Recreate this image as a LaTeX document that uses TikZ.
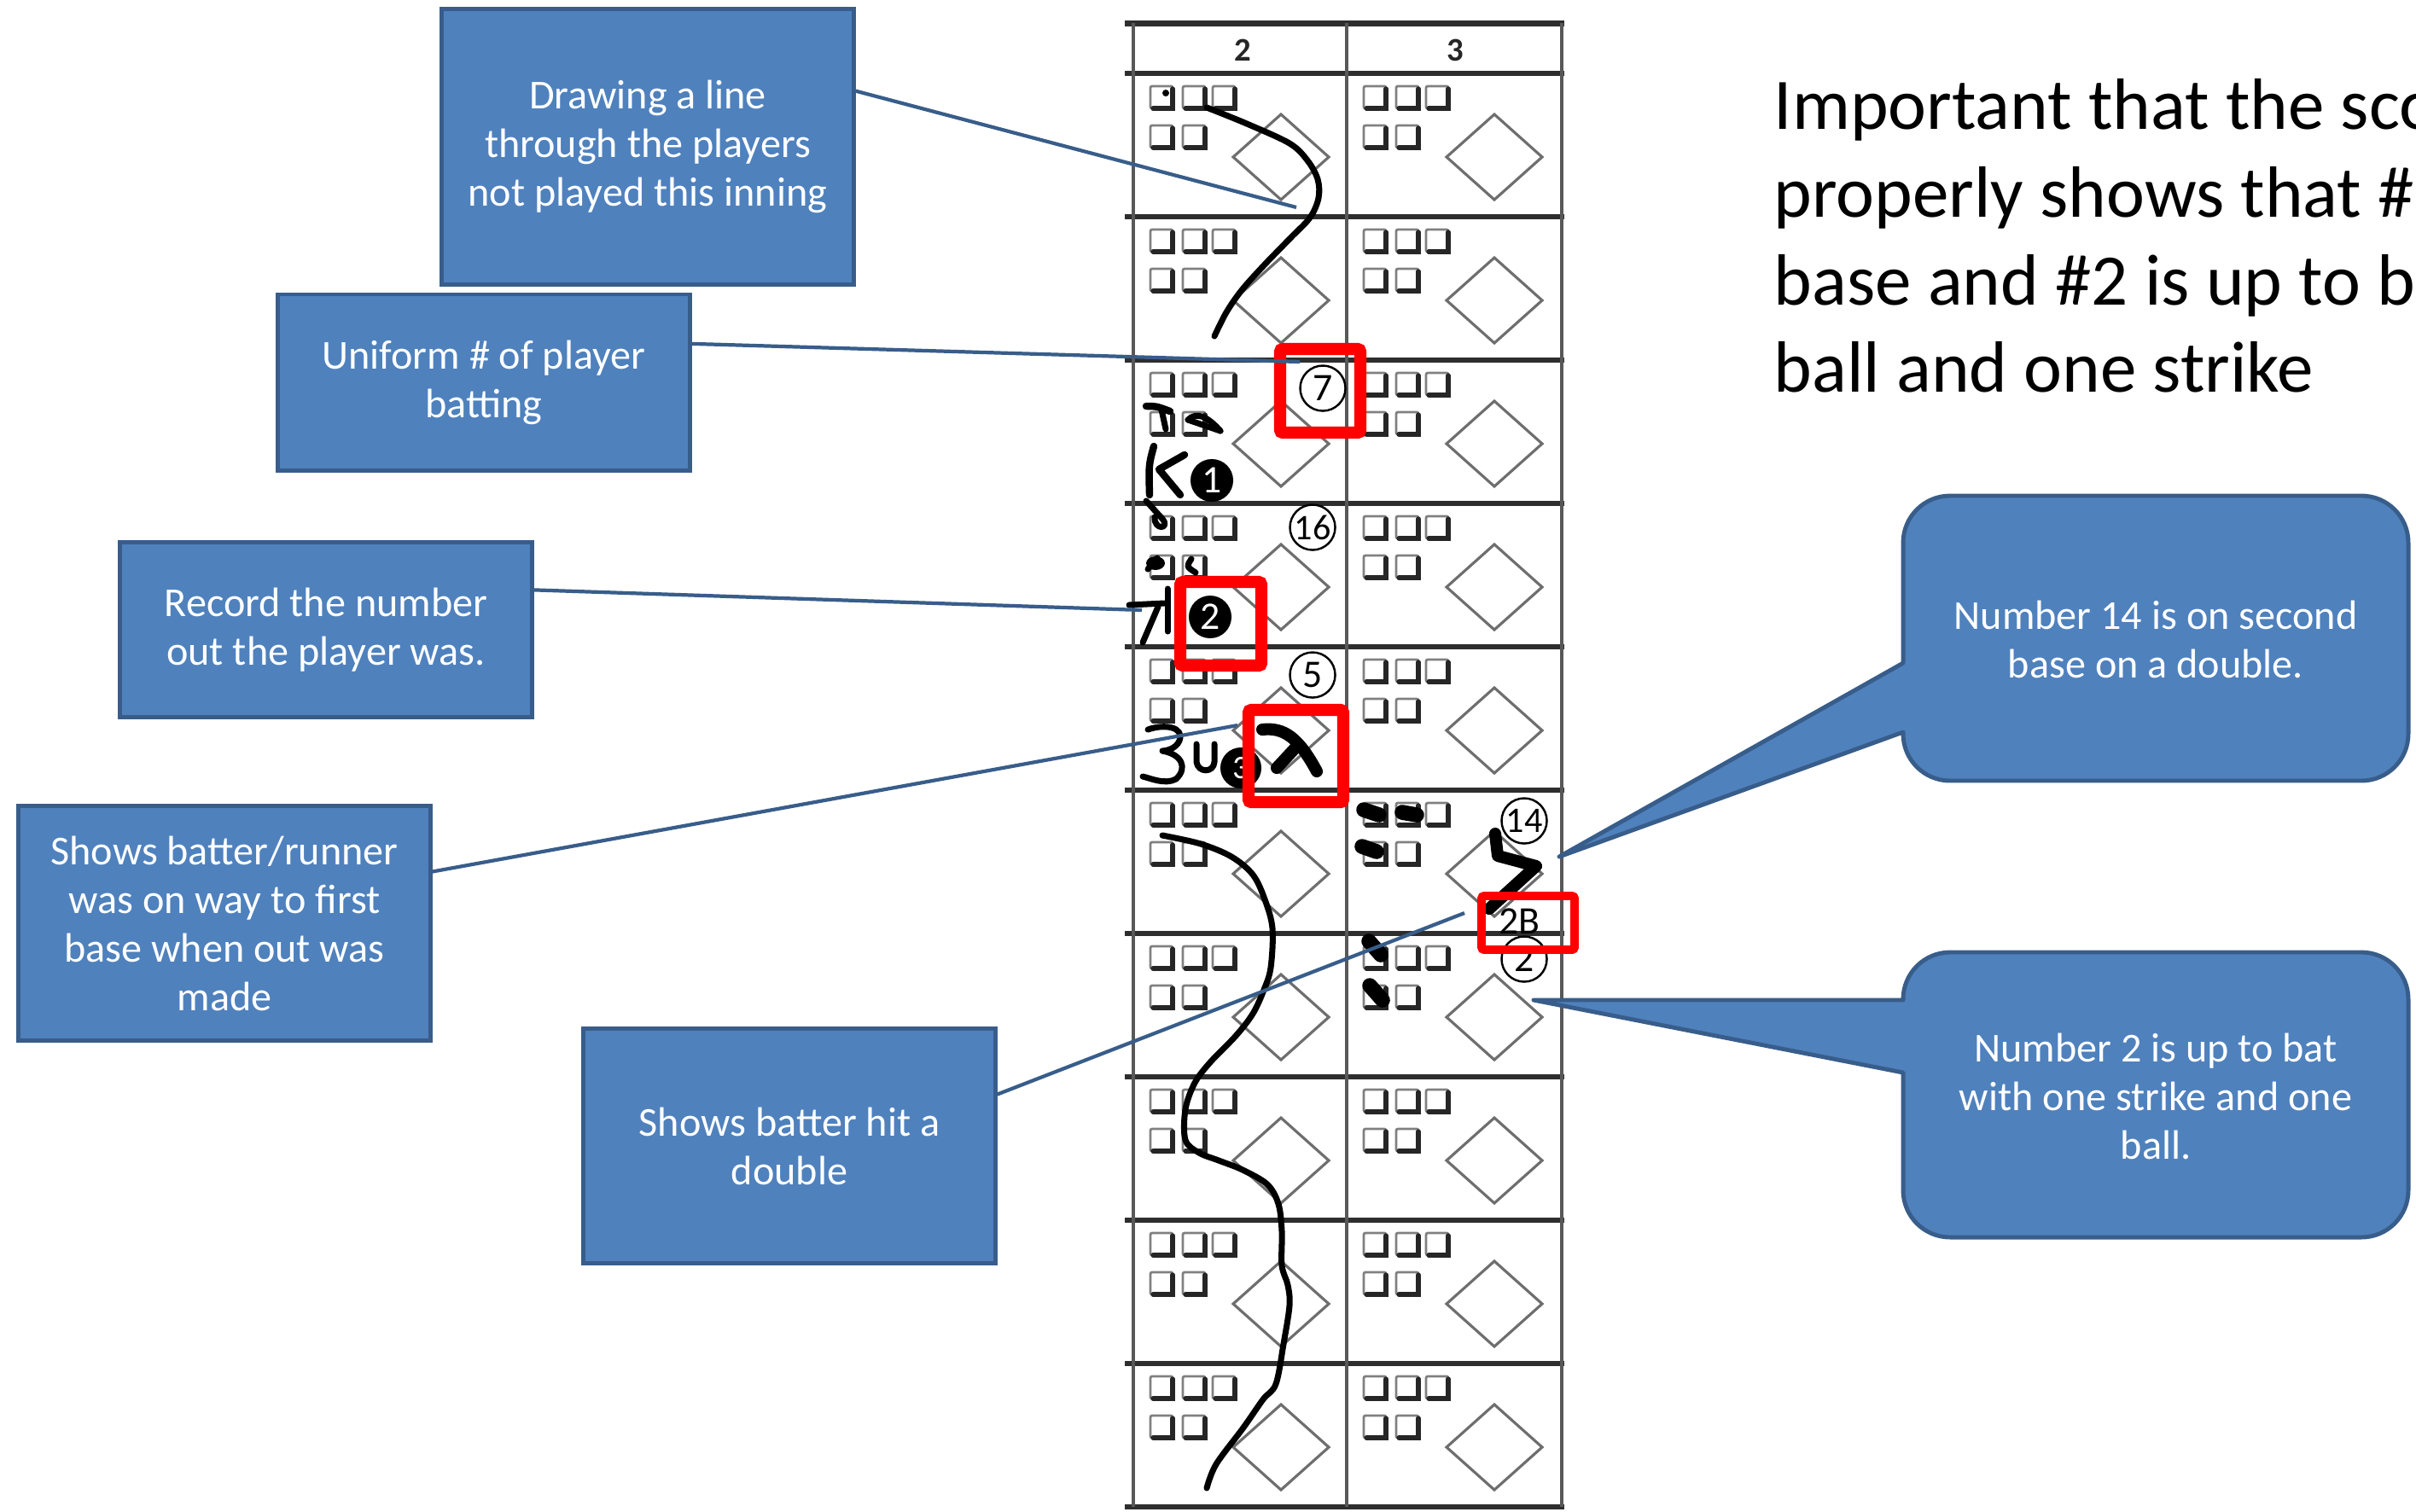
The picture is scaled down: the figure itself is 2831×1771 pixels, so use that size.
\documentclass[tikz,border=0pt]{standalone}
\usepackage{fontspec}
\setmainfont{Carlito}
\usetikzlibrary{calc}
\definecolor{boxfill}{HTML}{4F81BD}
\definecolor{boxline}{HTML}{385D8A}
\definecolor{gridcol}{HTML}{2E2E2E}
\definecolor{diamcol}{HTML}{6E6E6E}
\definecolor{redmark}{HTML}{FF0000}
\tikzset{
  cbox/.style={draw=boxline, fill=boxfill, line width=1.4pt, text=white, align=center, inner sep=0pt, font=\fontsize{13.7}{16.2}\selectfont},
  conn/.style={draw=boxline, line width=1.2pt},
  callout/.style={draw=boxline, fill=boxfill, line width=1.4pt, line join=round},
  ctext/.style={text=white, align=center, inner sep=0pt, font=\fontsize{13.7}{16.2}\selectfont},
  bigtext/.style={anchor=base west, inner sep=0pt, font=\fontsize{24.2}{29}\selectfont},
  hline/.style={draw=gridcol, line width=1.7pt},
  vline/.style={draw=gridcol!80, line width=1.2pt},
  sqr/.style={draw=black!50, fill=white, line width=0.8pt, rounded corners=0.02cm},
  sqsh/.style={draw=black!85, line width=1.5pt, line cap=round},
  diam/.style={draw=diamcol, line width=0.9pt},
  pen/.style={draw=black, line width=2pt, line cap=round, line join=round},
  fatpen/.style={draw=black, line width=4pt, line cap=round, line join=round},
  blob/.style={draw=black, line width=5pt, line cap=round},
  redbox/.style={draw=redmark, line width=4pt, rounded corners=0.03cm},
  ocirc/.style={circle, draw=black, line width=0.7pt, minimum size=0.53cm, inner sep=0pt, font=\fontsize{13}{13}\selectfont},
  fcirc/.style={circle, fill=black, text=white, minimum size=0.5cm, inner sep=0pt, font=\fontsize{13}{13}\selectfont},
}
\begin{document}
\begin{tikzpicture}[x=0.01cm,y=-0.01cm]
\useasboundingbox (0,0) rectangle (2831,1771);
\fill[white] (0,0) rectangle (2831,1771);

% ---------- score card ----------
\foreach \k in {0,...,9} {
  \pgfmathsetmacro{\ty}{86+168*\k}
  \foreach \cx/\dx in {1348/1501, 1598/1751} {
    \foreach \ox in {0,38,73} {
      \draw[sqr] ({\cx+\ox},{\ty+15}) rectangle ++(26,26);
      \draw[sqsh] ({\cx+\ox+26},{\ty+18}) -- ++(0,23) -- ++(-23,0);
    }
    \foreach \ox in {0,38} {
      \draw[sqr] ({\cx+\ox},{\ty+61}) rectangle ++(26,26);
      \draw[sqsh] ({\cx+\ox+26},{\ty+64}) -- ++(0,23) -- ++(-23,0);
    }
    \draw[diam] ({\dx-56},{\ty+98}) -- ({\dx},{\ty+48}) -- ({\dx+56},{\ty+98}) -- ({\dx},{\ty+148}) -- cycle;
  }
}
\draw[hline, line width=2pt] (1318,27) -- (1833,27);
\foreach \yy in {86,254,422,590,758,926,1094,1262,1430,1598,1766}
  \draw[hline] (1318,\yy) -- (1833,\yy);
\foreach \xx in {1328,1578,1830}
  \draw[vline] (\xx,27) -- (\xx,1766);
\node[font=\bfseries\fontsize{11}{11}\selectfont, text=black!85] (h2) at (1456,59) {2};
\node[font=\bfseries\fontsize{11}{11}\selectfont, text=black!85] (h3) at (1705,59) {3};

% ---------- handwriting ----------
\fill (1366,109) circle[radius=4];
\draw[pen] plot[smooth, tension=0.55] coordinates {(1414,126) (1461,145) (1511,168) (1532,188) (1544,210) (1545,232) (1535,255) (1512,279) (1480,312) (1455,340) (1437,366) (1423,394)};
\draw[pen] plot[smooth, tension=0.55] coordinates {(1362,979) (1407,989) (1443,1004) (1468,1025) (1482,1054) (1491,1088) (1489,1134) (1481,1160) (1468,1188) (1448,1214) (1418,1245) (1400,1269) (1389,1300) (1389,1336) (1405,1351) (1428,1360) (1456,1371) (1485,1388) (1498,1411) (1502,1443) (1502,1483) (1509,1506) (1511,1530) (1504,1575) (1495,1622) (1480,1640) (1457,1673) (1425,1716) (1414,1744)};

\draw[pen, line width=2.4pt] (1343,476) .. controls (1355,476) .. (1371,482);
\draw[pen] (1361,480) -- (1366,503);
\draw[pen] (1392,492) .. controls (1402,482) and (1415,488) .. (1430,505);
\draw[pen] (1392,492) -- (1430,505);
\draw[pen, line width=2.4pt] (1352,523) .. controls (1346,545) .. (1347,580);
\draw[pen, line width=2.4pt] (1388,533) -- (1358,550) -- (1383,580);
\draw[pen] (1343,587) .. controls (1352,598) .. (1362,608) .. controls (1372,620) and (1352,622) .. (1353,606);
\fill (1354,660) ellipse[x radius=11, y radius=8];
\draw[pen] (1345,667) -- (1356,654);
\draw[pen] (1396,655) .. controls (1390,664) .. (1401,671);
\draw[pen] (1323,709) -- (1364,707);
\draw[pen] (1357,711) -- (1339,753);
\draw[pen] (1368,690) -- (1368,740);

\draw[pen] (1345,855) .. controls (1365,848) and (1388,852) .. (1382,868) .. controls (1378,878) and (1365,880) .. (1362,880) .. controls (1385,884) and (1392,900) .. (1378,913) .. controls (1365,920) and (1348,912) .. (1339,910);
\draw[pen] (1402,872) -- (1402,893) .. controls (1404,906) and (1422,906) .. (1423,893) -- (1423,872);

\draw[fatpen] (1479,855) .. controls (1505,852) and (1522,865) .. (1543,904);
\draw[fatpen] (1521,873) -- (1496,900);

\draw[blob] (1598,949) -- (1616,955);
\draw[blob] (1643,952) -- (1660,955);
\draw[blob] (1596,992) -- (1613,998);
\draw[blob] (1604,1103) -- (1618,1119);
\draw[blob] (1605,1155) -- (1620,1172);
\draw[fatpen] (1752,977) -- (1755,1003) -- (1800,1015) -- (1745,1065);

% ---------- circled numbers ----------
\node[ocirc] (n7) at (1550,455) {7};
\node[ocirc, font=\fontsize{12}{12}\selectfont] (n16) at (1538,618) {16};
\node[ocirc] (n5) at (1538,791) {5};
\node[ocirc, font=\fontsize{12}{12}\selectfont] (n14) at (1786,962) {14};
\node[ocirc] (n2) at (1786,1124) {2};
\node[fcirc] (f1) at (1420,563) {1};
\node[fcirc] (f2) at (1418,723) {2};
\node[fcirc, minimum size=0.48cm, font=\fontsize{11}{11}\selectfont] (f3) at (1454,900) {3};
\node[inner sep=0pt, font=\fontsize{13}{13}\selectfont] (twoB) at (1780,1080) {2B};

% ---------- red boxes ----------
\draw[redbox] (1500,409) rectangle (1594,507);
\draw[redbox] (1383,682) rectangle (1478,780);
\draw[redbox] (1463,832) rectangle (1574,940);
\draw[redbox, line width=2.8pt] (1736,1050) rectangle (1845,1113);

% ---------- boxes ----------
\node[cbox, minimum width=4.82cm, minimum height=3.22cm] (b1) at (759,172) {Drawing a line\\through the players\\not played this inning};
\node[cbox, minimum width=4.82cm, minimum height=2.06cm] (b2) at (567,448) {Uniform \# of player\\batting};
\node[cbox, minimum width=4.82cm, minimum height=2.05cm] (b3) at (382,738) {Record the number\\out the player was.};
\node[cbox, minimum width=4.82cm, minimum height=2.75cm] (b4) at (263,1082) {Shows batter/runner\\was on way to first\\base when out was\\made};
\node[cbox, minimum width=4.82cm, minimum height=2.75cm] (b5) at (925,1343) {Shows batter hit a\\double};

% ---------- connectors ----------
\coordinate (t1) at (1519,243);
\coordinate (t2) at (1523,424);
\coordinate (t3) at (1338,715);
\coordinate (t4) at (1450,850);
\coordinate (t5) at (1716,1070);
\draw[conn] ($(b1.north east)!0.30!(b1.south east)$) -- (t1);
\draw[conn] ($(b2.north east)!0.286!(b2.south east)$) -- (t2);
\draw[conn] ($(b3.north east)!0.278!(b3.south east)$) -- (t3);
\draw[conn] ($(b4.north east)!0.284!(b4.south east)$) -- (t4);
\draw[conn] ($(b5.north east)!0.284!(b5.south east)$) -- (t5);

% ---------- callouts ----------
\path[callout] (2230,777) -- (1827,1004) -- (2230,858) -- (2230,860) arc[start angle=180,end angle=90,radius=55] -- (2767,915) arc[start angle=90,end angle=0,radius=55] -- (2822,636) arc[start angle=0,end angle=-90,radius=55] -- (2285,581) arc[start angle=270,end angle=180,radius=55] -- cycle;
\node[ctext] (c1t) at (2526,749) {Number 14 is on second\\base on a double.};

\path[callout] (2230,1257) -- (1797,1172) -- (2230,1172) -- (2230,1171) arc[start angle=180,end angle=270,radius=55] -- (2767,1116) arc[start angle=270,end angle=360,radius=55] -- (2822,1395) arc[start angle=0,end angle=90,radius=55] -- (2285,1450) arc[start angle=90,end angle=180,radius=55] -- cycle;
\node[ctext] (c2t) at (2526,1285) {Number 2 is up to bat\\with one strike and one\\ball.};

% ---------- big text ----------
\node[bigtext] (imp1) at (2078,151) {Important that the sco};
\node[bigtext] (imp2) at (2078,254) {properly shows that \#};
\node[bigtext] (imp3) at (2078,357) {base and \#2 is up to b};
\node[bigtext] (imp4) at (2078,459) {ball and one strike};
\end{tikzpicture}
\end{document}
